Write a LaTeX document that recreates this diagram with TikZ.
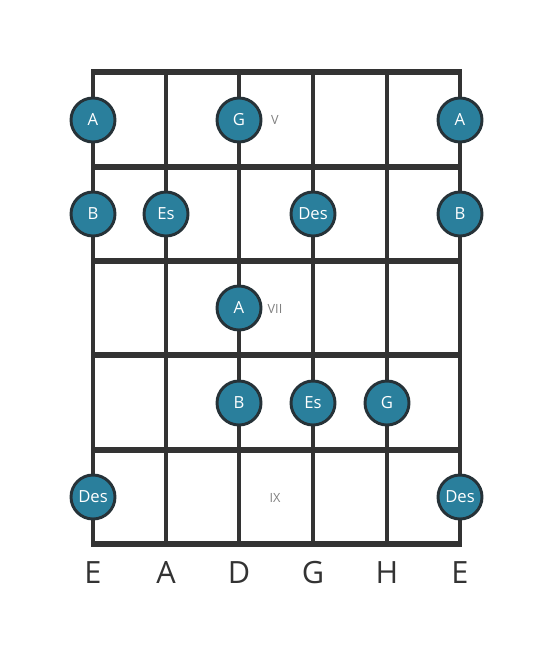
\documentclass[tikz,border=0pt]{standalone}
\usepackage{fontspec}
\setmainfont{Open Sans}
\usepackage{tikz}
\usetikzlibrary{positioning}
\definecolor{notefill}{HTML}{2A7F9C}
\definecolor{noteline}{HTML}{263238}
\definecolor{boardline}{HTML}{333333}
\tikzset{
  note/.style={circle,draw=noteline,line width=2.2pt,fill=notefill,minimum size=33pt,inner sep=0pt,
    text=white,font=\fontsize{12.5}{14}\selectfont},
  fretlabel/.style={text=gray,font=\fontsize{9.5}{11}\selectfont},
  stringlabel/.style={text=boardline,font=\fontsize{23}{27}\selectfont}
}
\begin{document}
\begin{tikzpicture}[x=0.75pt,y=-0.75pt]
\useasboundingbox (0,0) rectangle (553,656);
% strings
\foreach \x in {93,166,239,313,387,460}
  \draw[line width=2.3pt,boardline] (\x,72) -- (\x,544);
% frets
\foreach \y in {72,167,261,355,450,544}
  \draw[line width=3.8pt,boardline] (91,\y) -- (462,\y);
% fret numbers
\node[fretlabel] (fretV) at (275,120) {V};
\node[fretlabel] (fretVII) at (275,309) {VII};
\node[fretlabel] (fretIX) at (275,498) {IX};
% notes
\node[note] (a1) at (93,120) {A};
\node[note] (g1) at (239,120) {G};
\node[note] (a6) at (460,120) {A};
\node[note] (b1) at (93,214) {B};
\node[note] (es2) at (166,214) {Es};
\node[note] (des4) at (313,214) {Des};
\node[note] (b6) at (460,214) {B};
\node[note] (a3) at (239,308) {A};
\node[note] (b3) at (239,403) {B};
\node[note] (es4) at (313,403) {Es};
\node[note] (g5) at (387,403) {G};
\node[note] (des1) at (93,497) {Des};
\node[note] (des6) at (460,497) {Des};
% tuning
\node[stringlabel] (sE) at (93,573) {E};
\node[stringlabel] (sA) at (166,573) {A};
\node[stringlabel] (sD) at (239,573) {D};
\node[stringlabel] (sG) at (313,573) {G};
\node[stringlabel] (sH) at (387,573) {H};
\node[stringlabel] (se) at (460,573) {E};
\end{tikzpicture}
\end{document}
